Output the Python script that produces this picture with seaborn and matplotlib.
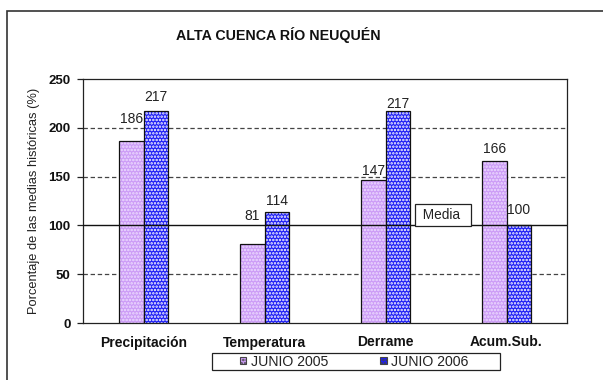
import matplotlib
matplotlib.use("Agg")
import matplotlib.pyplot as plt
import seaborn as sns
import pandas as pd
from matplotlib.patches import Patch, Rectangle

# Data
categorias = ["Precipitación", "Temperatura", "Derrame", "Acum.Sub."]
junio_2005 = [186, 81, 147, 166]
junio_2006 = [217, 114, 217, 100]
series = ["JUNIO 2005", "JUNIO 2006"]
y_ticks = [0, 50, 100, 150, 200, 250]

sns.set_theme(style="white")
plt.rcParams["font.family"] = ["Liberation Sans", "DejaVu Sans"]
plt.rcParams["hatch.linewidth"] = 1.2

df = pd.DataFrame({
    "categoria": categorias * 2,
    "valor": junio_2005 + junio_2006,
    "serie": [series[0]] * len(categorias) + [series[1]] * len(categorias),
})

face = {"JUNIO 2005": "#CC9CF6", "JUNIO 2006": "#1E1EF5"}
dots = {"JUNIO 2005": "#EEDCFF", "JUNIO 2006": "#FFFFFF"}

fig = plt.figure(figsize=(6.03, 3.80), dpi=100)
fig.patch.set_facecolor("white")
ax = fig.add_axes([83 / 603, 1 - 323 / 380, (567 - 83) / 603, (323 - 79) / 380])

sns.barplot(data=df, x="categoria", y="valor", hue="serie", order=categorias,
            hue_order=series, palette=face, width=0.4, gap=0,
            saturation=1, legend=False, ax=ax, zorder=3)

# dotted fill with black outline
for cont, name in zip(ax.containers, series):
    for bar in cont:
        bar.set_hatch(".....")
        bar.set_edgecolor("#111111")
        bar.set_linewidth(0.9)
        bar._hatch_color = matplotlib.colors.to_rgba(dots[name])

# value labels (vertical offsets in points)
offsets = {series[0]: [16, 20, 6.5, 8.5], series[1]: [10, 8, 5, 10.8]}
for cont, name in zip(ax.containers, series):
    for bar, off in zip(cont, offsets[name]):
        ax.annotate(f"{bar.get_height():.0f}",
                    (bar.get_x() + bar.get_width() / 2, bar.get_height()),
                    xytext=(0, off), textcoords="offset points",
                    ha="center", va="center", fontsize=10, color="#222222",
                    zorder=5)

# reference lines
for v in [50, 150, 200]:
    ax.axhline(v, color="#444444", lw=0.9, ls=(0, (3.5, 2.2)), zorder=1)
ax.axhline(100, color="#111111", lw=1.0, zorder=4)

ax.annotate(" Media  ", (2.475, 100), xytext=(0, 7.3),
            textcoords="offset points", ha="center", va="center",
            fontsize=9.8, color="#222222", zorder=6,
            bbox=dict(boxstyle="square,pad=0.3", fc="white", ec="#222222",
                      lw=0.9))

ax.set_ylim(0, 250)
ax.set_xlim(-0.5, 3.5)
ax.set_yticks(y_ticks)
ax.set_yticklabels([str(t) for t in y_ticks], fontweight="bold", fontsize=9.5,
                   color="#111111")
ax.set_xticks(range(len(categorias)))
ax.set_xticklabels(categorias, fontweight="bold", fontsize=10, color="#111111")
ax.set_xticks([0.5, 1.5, 2.5], minor=True)
ax.tick_params(axis="x", which="major", length=0, pad=9)
ax.tick_params(axis="x", which="minor", length=5, direction="inout",
               width=0.9, color="#222222")
ax.tick_params(axis="y", which="major", length=4, direction="out", width=0.9,
               color="#222222", pad=5, left=True)
ax.set_xlabel("")
ax.set_ylabel("Porcentaje de las medias históricas (%)", fontsize=9.3,
              color="#222222", labelpad=6)
for s in ax.spines.values():
    s.set_color("#222222")
    s.set_linewidth(0.9)

fig.text(278 / 603, 1 - 35 / 380, "ALTA CUENCA RÍO NEUQUÉN", ha="center",
         va="center", fontsize=10.3, fontweight="bold", color="#111111")

# legend
handles = [Patch(facecolor=face[s], edgecolor="#444444", hatch=".....",
                 linewidth=0.8) for s in series]
leg = fig.legend(handles, series, loc="center left",
                 bbox_to_anchor=(240 / 603, 1 - 361.5 / 380), ncol=2,
                 frameon=False, fontsize=10.2, handlelength=0.45,
                 handleheight=0.45, handletextpad=0.3, columnspacing=3.7,
                 borderpad=0, borderaxespad=0)
for t in leg.get_texts():
    t.set_color("#222222")
fig.add_artist(Rectangle((212 / 603, 1 - 370 / 380), 288 / 603, 17 / 380,
                         transform=fig.transFigure, fill=False,
                         ec="#222222", lw=0.9))

# outer chart border
fig.add_artist(Rectangle((7 / 603, -0.05), 1.2, 1 - 11 / 380 + 0.05,
                         transform=fig.transFigure, fill=False,
                         ec="#333333", lw=1.2))

fig.savefig("out.png", dpi=100)
